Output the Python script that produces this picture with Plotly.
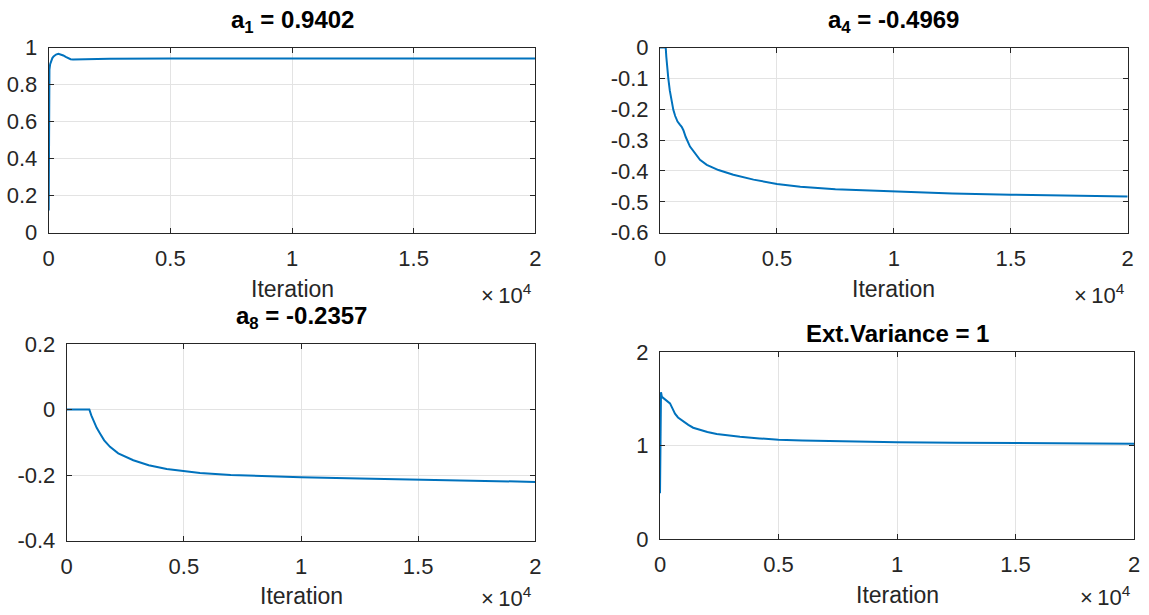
import plotly.graph_objects as go

W, H = 1149, 615

# ---- data (iteration, coefficient value) ----
a1_iter = [0, 0, 15, 30, 60, 100, 150, 200, 300, 400, 500, 600, 700, 800, 900, 1000, 1200, 1600, 2500, 5000, 10000, 15000, 20000]
a1_val = [0.12, 0.80, 0.85, 0.88, 0.91, 0.928, 0.943, 0.952, 0.962, 0.966, 0.963, 0.957, 0.949, 0.942, 0.937, 0.935, 0.935, 0.937, 0.939, 0.940, 0.940, 0.940, 0.940]

a4_iter = [0, 244, 270, 300, 355, 420, 500, 570, 650, 750, 850, 927, 1000, 1100, 1283, 1500, 1710, 2000, 2500, 3135, 4000, 5000, 6000, 7500, 10000, 12500, 15000, 17500, 20000]
a4_val = [0.0, 0.0, -0.03, -0.06, -0.10, -0.14, -0.175, -0.202, -0.222, -0.240, -0.250, -0.257, -0.268, -0.290, -0.321, -0.345, -0.364, -0.380, -0.397, -0.412, -0.428, -0.442, -0.451, -0.459, -0.467, -0.473, -0.477, -0.480, -0.483]

a8_iter = [0, 966, 1050, 1150, 1280, 1422, 1600, 1849, 2200, 2843, 3500, 4268, 5000, 5690, 7000, 8500, 10000, 12500, 15000, 17500, 20000]
a8_val = [0.0, 0.0, -0.018, -0.036, -0.056, -0.073, -0.094, -0.114, -0.134, -0.155, -0.170, -0.182, -0.189, -0.194, -0.200, -0.204, -0.207, -0.211, -0.215, -0.218, -0.221]

var_iter = [0, 20, 42, 80, 130, 211, 300, 422, 520, 633, 760, 914, 1050, 1195, 1400, 1688, 2000, 2392, 2800, 3376, 4200, 5000, 6000, 8000, 10000, 12500, 15000, 17500, 20000]
var_val = [0.49, 1.40, 1.57, 1.52, 1.51, 1.50, 1.48, 1.45, 1.40, 1.34, 1.30, 1.27, 1.245, 1.22, 1.19, 1.166, 1.145, 1.123, 1.108, 1.094, 1.076, 1.062, 1.053, 1.043, 1.036, 1.030, 1.026, 1.022, 1.020]

titles = ["a<sub>1</sub> = 0.9402", "a<sub>4</sub> = -0.4969", "a<sub>8</sub> = -0.2357", "Ext.Variance = 1"]
x_tickvals = [0, 5000, 10000, 15000, 20000]
x_ticktext = ["0", "0.5", "1", "1.5", "2"]

y_ticks = [
    ([0, 0.2, 0.4, 0.6, 0.8, 1.0], ["0", "0.2", "0.4", "0.6", "0.8", "1"], [0, 1]),
    ([0, -0.1, -0.2, -0.3, -0.4, -0.5, -0.6], ["0", "-0.1", "-0.2", "-0.3", "-0.4", "-0.5", "-0.6"], [-0.6, 0]),
    ([0.2, 0, -0.2, -0.4], ["0.2", "0", "-0.2", "-0.4"], [-0.4, 0.2]),
    ([0, 1, 2], ["0", "1", "2"], [0, 2]),
]

series = [(a1_iter, a1_val), (a4_iter, a4_val), (a8_iter, a8_val), (var_iter, var_val)]

# axes boxes in pixels: (left, right, top, bottom)
boxes = [
    (48.7, 535.3, 47.5, 232.7),
    (660.0, 1127.7, 47.5, 232.7),
    (66.7, 535.3, 344.0, 540.5),
    (660.0, 1134.0, 352.0, 539.0),
]
title_y = [21, 21, 317, 333]
label_y = [289, 289, 596, 595]
exp_y = [294, 294, 597, 596]

FONT = "Liberation Sans, Arial, Helvetica, sans-serif"
TXT = "#262626"
BLUE = "#0072BD"
GRID = "#e3e3e3"

fig = go.Figure()
annotations = []

def px_x(p):
    return p / W

def px_y(p):
    return 1 - p / H

for i, ((xs, ys), (l, r, t, b)) in enumerate(zip(series, boxes)):
    n = i + 1
    xa = "x" if n == 1 else f"x{n}"
    ya = "y" if n == 1 else f"y{n}"
    fig.add_trace(go.Scatter(
        x=xs, y=ys, mode="lines", xaxis=xa, yaxis=ya,
        line=dict(color=BLUE, width=2),
        showlegend=False, hoverinfo="skip",
    ))
    tv, tt, rng = y_ticks[i]
    common = dict(
        showline=True, linecolor=TXT, linewidth=1, mirror="ticks",
        ticks="inside", ticklen=5, tickcolor=TXT, tickwidth=1,
        showgrid=True, gridcolor=GRID, gridwidth=1, zeroline=False,
        automargin=False,
        tickfont=dict(family=FONT, size=22, color=TXT),
    )
    fig.layout[f"xaxis{'' if n == 1 else n}"] = dict(
        domain=[px_x(l), px_x(r)], anchor=ya, range=[0, 20000],
        tickvals=x_tickvals, ticktext=x_ticktext, ticklabelstandoff=6, **common)
    fig.layout[f"yaxis{'' if n == 1 else n}"] = dict(
        domain=[px_y(b), px_y(t)], anchor=xa, range=rng,
        tickvals=tv, ticktext=tt, ticklabelstandoff=6, **common)

    cx = px_x((l + r) / 2)
    annotations.append(dict(
        text=f"<b>{titles[i]}</b>", x=cx, y=px_y(title_y[i]), xref="paper", yref="paper",
        xanchor="center", yanchor="middle", showarrow=False,
        font=dict(family=FONT, size=24, color="#000000")))
    annotations.append(dict(
        text="Iteration", x=cx, y=px_y(label_y[i]), xref="paper", yref="paper",
        xanchor="center", yanchor="middle", showarrow=False,
        font=dict(family=FONT, size=23, color=TXT)))
    annotations.append(dict(
        text="×\u200910<sup>4</sup>", x=px_x(r - 1), y=px_y(exp_y[i]), xref="paper", yref="paper",
        xanchor="right", yanchor="middle", showarrow=False,
        font=dict(family=FONT, size=22, color=TXT)))

fig.update_layout(
    width=W, height=H,
    margin=dict(l=0, r=0, t=0, b=0, autoexpand=False),
    paper_bgcolor="white", plot_bgcolor="white",
    annotations=annotations,
)

fig.write_html("out.html")
